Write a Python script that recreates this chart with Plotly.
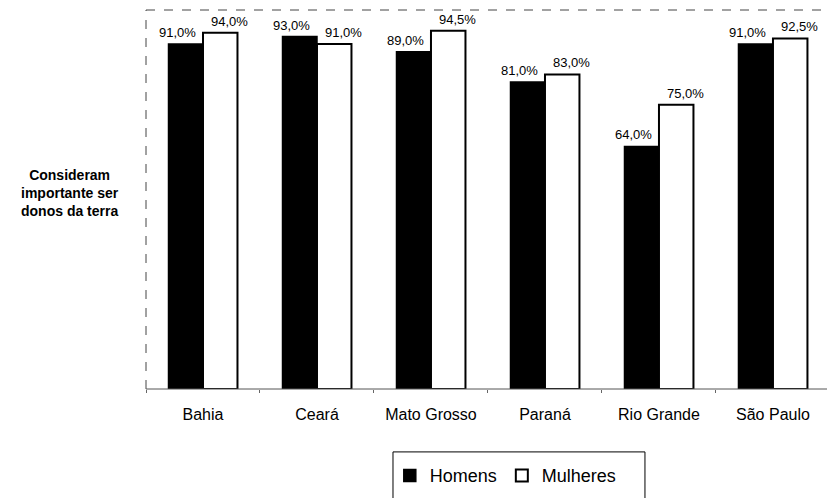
import plotly.graph_objects as go

# Survey results by state
estados = ["Bahia", "Ceará", "Mato Grosso", "Paraná", "Rio Grande", "São Paulo"]
homens = [91.0, 93.0, 89.0, 81.0, 64.0, 91.0]
mulheres = [94.0, 91.0, 94.5, 83.0, 75.0, 92.5]

FONT = "Arial, 'Liberation Sans', Helvetica, sans-serif"

fig = go.Figure()
fig.add_trace(go.Bar(
    x=estados, y=homens, name="Homens", offsetgroup="h",
    marker=dict(color="black", line=dict(color="black", width=1.5)),
))
fig.add_trace(go.Bar(
    x=estados, y=mulheres, name="Mulheres", offsetgroup="m",
    marker=dict(color="white", line=dict(color="black", width=2)),
))


def fmt(v):
    return f"{v:.1f}".replace(".", ",") + "%"


# Value labels above each bar, nudged outward from the pair centre
for serie, shift, off in ((homens, -8, -0.15), (mulheres, 9, 0.15)):
    for i, (cat, v) in enumerate(zip(estados, serie)):
        fig.add_annotation(
            x=i + off, y=v, xref="x", yref="y", text=fmt(v),
            showarrow=False, xanchor="center", yanchor="bottom",
            xshift=shift, yshift=2,
            font=dict(size=13, color="black", family=FONT),
        )

# Dashed frame (left, top) and baseline
frame = dict(color="#444", width=1, dash="dash")
fig.add_shape(type="line", xref="paper", yref="paper", x0=0, x1=0, y0=0, y1=1, line=frame)
fig.add_shape(type="line", xref="paper", yref="paper", x0=0, x1=1, y0=1, y1=1, line=frame)
fig.add_shape(type="line", xref="paper", yref="paper", x0=0, x1=1, y0=0, y1=0,
              line=dict(color="#555", width=1))

# Legend box
fig.add_shape(type="rect", xref="paper", yref="paper",
              x0=0.3627, x1=0.7327, y0=-0.166, y1=-0.32,
              line=dict(color="black", width=1), fillcolor="rgba(0,0,0,0)")

fig.add_annotation(
    text="<b>Consideram<br>importante ser<br>donos da terra</b>",
    xref="paper", yref="paper", x=-0.1116, y=0.518,
    xanchor="center", yanchor="middle", showarrow=False, align="center",
    font=dict(size=14, color="black", family=FONT),
)

fig.update_layout(
    width=827, height=498,
    margin=dict(l=146, r=0, t=10, b=109),
    paper_bgcolor="white", plot_bgcolor="white",
    barmode="group", bargap=0.395, bargroupgap=0,
    separators=",.",
    font=dict(family=FONT, color="black"),
    showlegend=True,
    legend=dict(
        orientation="h", x=0.358, y=-0.18, xanchor="left", yanchor="top",
        font=dict(size=18, color="black", family=FONT),
        bgcolor="rgba(0,0,0,0)", borderwidth=0,
    ),
    xaxis=dict(
        range=[-0.5, 5.474], showgrid=False, zeroline=False, showline=False,
        ticks="outside", tickson="boundaries", ticklen=3, tickcolor="#666",
        ticklabelstandoff=14,
        tickfont=dict(size=16, color="black", family=FONT),
    ),
    yaxis=dict(
        range=[0, 100], showgrid=False, zeroline=False, showline=False,
        showticklabels=False, ticks="",
    ),
)

fig.write_html("out.html")
